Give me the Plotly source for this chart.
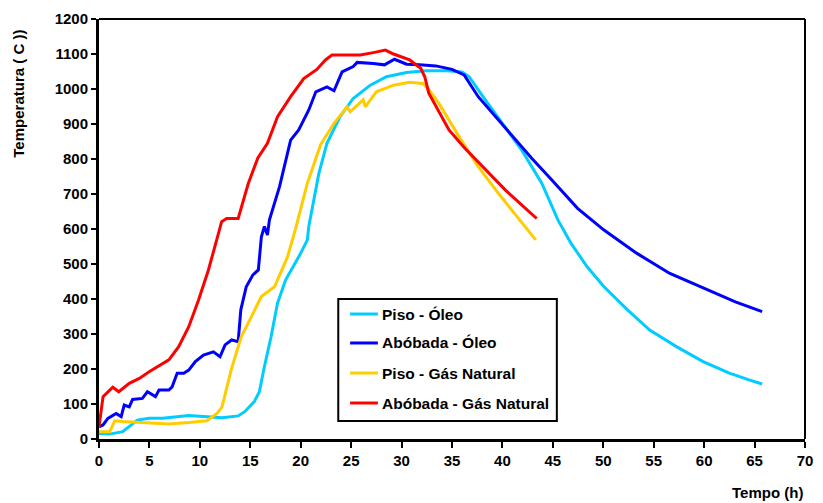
import plotly.graph_objects as go

# Piso - Óleo
piso_oleo_t = [0, 1.05, 2.35, 3.0, 3.8, 4.97, 6.3, 8.9, 10.5, 12.2, 13.8, 14.45, 15.4, 15.9, 16.4, 17.06,
               17.7, 18.5, 20.0, 20.66, 20.8, 21.8, 22.6, 23.9, 25.2, 26.9, 28.5, 30.5, 32.4, 34.4, 36.0,
               36.7, 38.3, 39.9, 41.9, 43.9, 45.5, 46.8, 48.4, 50.07, 52.4, 54.6, 57.25, 59.9, 62.5,
               64.45, 65.75]
piso_oleo_v = [16, 14, 21, 35, 54, 59, 59, 67, 64, 61, 66, 78, 107, 135, 207, 292,
               388, 454, 531, 569, 607, 759, 845, 921, 973, 1011, 1035, 1047, 1052, 1052, 1049,
               1035, 969, 907, 826, 731, 626, 559, 492, 435, 369, 311, 264, 221, 188,
               169, 157]

# Abóbada - Óleo
abobada_oleo_t = [0, 0.4, 0.88, 1.7, 2.2, 2.5, 3.0, 3.33, 4.3, 4.8, 5.6, 5.95, 6.93, 7.25, 7.75, 8.4,
                  8.9, 9.55, 10.36, 11.34, 12.0, 12.5, 13.15, 13.8, 14.06, 14.6, 15.26, 15.8, 16.1,
                  16.4, 16.7, 16.9, 17.9, 19.0, 19.8, 20.8, 21.5, 22.6, 23.3, 24.1, 25.2, 25.6, 27.2,
                  28.3, 29.3, 30.5, 31.8, 33.4, 35.0, 36.2, 37.6, 40.0, 42.9, 44.9, 47.45, 50.07,
                  53.3, 56.6, 59.9, 63.1, 65.75]
abobada_oleo_v = [35, 40, 59, 73, 64, 97, 92, 113, 116, 135, 121, 140, 140, 149, 188, 188,
                  197, 221, 240, 249, 235, 269, 283, 278, 369, 435, 469, 483, 578,
                  607, 583, 626, 721, 854, 883, 940, 992, 1006, 995, 1049, 1064, 1076, 1073,
                  1069, 1085, 1071, 1069, 1066, 1056, 1040, 978, 897, 802, 740, 659, 597,
                  531, 473, 431, 392, 364]

# Piso - Gás Natural
piso_gas_t = [0, 1.05, 1.3, 1.55, 2.35, 4.3, 6.9, 8.9, 10.7, 11.7, 12.2, 13.1, 14.1, 15.1, 16.1,
              17.4, 18.7, 19.5, 20.66, 21.96, 23.3, 24.6, 24.9, 26.2, 26.4, 27.5, 29.2, 30.8,
              32.1, 32.6, 33.7, 35.7, 37.6, 39.6, 42.2, 43.3]
piso_gas_v = [21, 21, 35, 52, 50, 47, 43, 47, 52, 73, 92, 197, 292, 349, 407,
              435, 521, 602, 731, 840, 902, 949, 935, 969, 949, 992, 1011, 1019,
              1016, 1002, 959, 864, 778, 702, 607, 569]

# Abóbada - Gás Natural
abobada_gas_t = [0, 0.4, 1.37, 1.96, 3.0, 4.0, 4.97, 6.93, 7.9, 8.9, 9.87, 10.85, 11.67, 12.16,
                 12.65, 13.8, 14.8, 15.75, 16.7, 17.7, 19.0, 20.3, 21.6, 22.45, 23.1, 24.25, 25.9,
                 27.2, 28.4, 29.2, 30.8, 31.9, 32.3, 32.7, 33.6, 34.7, 36.3, 38.3, 40.3, 41.9, 43.4]
abobada_gas_v = [35, 121, 148, 135, 159, 173, 192, 226, 264, 321, 397, 483, 569, 621,
                 630, 630, 730, 803, 845, 921, 978, 1030, 1056, 1083, 1097, 1097, 1097,
                 1104, 1111, 1100, 1083, 1059, 1035, 988, 940, 883, 830, 769, 711, 669, 630]

series = [
    ("Piso - Óleo", piso_oleo_t, piso_oleo_v, "#00CCFF"),
    ("Abóbada - Óleo", abobada_oleo_t, abobada_oleo_v, "#0000FF"),
    ("Piso - Gás Natural", piso_gas_t, piso_gas_v, "#FFCC00"),
    ("Abóbada - Gás Natural", abobada_gas_t, abobada_gas_v, "#FF0000"),
]

FONT = "Liberation Sans, Arial, sans-serif"

fig = go.Figure()
for name, t, v, c in series:
    fig.add_trace(go.Scatter(x=t, y=v, mode="lines", name=name,
                             line=dict(color=c, width=3), cliponaxis=False, showlegend=False))

# Legend drawn as a boxed key (paper coordinates)
leg_rows_y = [0.2976, 0.2286, 0.1571, 0.0857]
shapes = [
    dict(type="line", xref="paper", yref="paper", x0=0, x1=1, y0=1, y1=1,
         line=dict(color="black", width=2)),
    dict(type="line", xref="paper", yref="paper", x0=1, x1=1, y0=0, y1=1,
         line=dict(color="black", width=2)),
    dict(type="rect", xref="paper", yref="paper", x0=0.3389, x1=0.6485, y0=0.0429, y1=0.3333,
         line=dict(color="black", width=2), fillcolor="white", layer="above"),
]
annotations = [
    dict(text="Temperatura ( C ))", textangle=-90, xref="paper", yref="paper",
         x=-0.114, y=0.821, xanchor="center", yanchor="middle", showarrow=False,
         font=dict(size=15, family=FONT, color="black", weight="bold")),
    dict(text="Tempo (h)", xref="paper", yref="paper", x=1.0, y=-0.128,
         xanchor="right", yanchor="middle", showarrow=False,
         font=dict(size=15, family=FONT, color="black", weight="bold")),
]
for (name, _, _, c), ly in zip(series, leg_rows_y):
    shapes.append(dict(type="line", xref="paper", yref="paper", x0=0.3557, x1=0.395,
                       y0=ly, y1=ly, line=dict(color=c, width=3), layer="above"))
    annotations.append(dict(text=name, xref="paper", yref="paper", x=0.3985, y=ly,
                            xanchor="left", yanchor="middle", showarrow=False,
                            font=dict(size=15.5, family=FONT, color="black", weight="bold")))

fig.update_layout(
    width=823, height=503,
    margin=dict(l=99, r=10, t=19, b=64),
    paper_bgcolor="white", plot_bgcolor="white",
    font=dict(family=FONT, color="black"),
    showlegend=False,
    xaxis=dict(range=[0, 70], dtick=5, tick0=0, showgrid=False, zeroline=False,
               showline=True, linecolor="black", linewidth=3,
               ticks="outside", ticklen=6, tickwidth=2, tickcolor="black",
               tickfont=dict(size=15, family=FONT, color="black", weight="bold")),
    yaxis=dict(range=[0, 1200], dtick=100, tick0=0, showgrid=False, zeroline=False,
               showline=True, linecolor="black", linewidth=3,
               ticks="outside", ticklen=5, tickwidth=2, tickcolor="black",
               tickfont=dict(size=15, family=FONT, color="black", weight="bold")),
    shapes=shapes,
    annotations=annotations,
)

fig.write_html("out.html", config={"displayModeBar": False},
               post_script="document.body.style.margin='0';document.body.style.overflow='hidden';")
